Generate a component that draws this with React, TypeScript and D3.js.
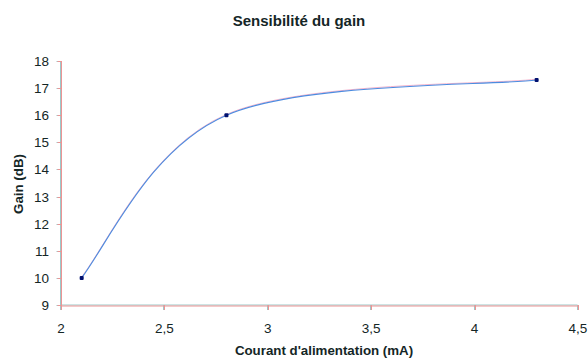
import React, { useEffect, useRef } from "react";
import * as d3 from "d3";

const current: number[] = [2.1, 2.8, 4.3];
const gain: number[] = [10, 16, 17.3];
const xTicks: number[] = [2, 2.5, 3, 3.5, 4, 4.5];
const yTicks: number[] = [9, 10, 11, 12, 13, 14, 15, 16, 17, 18];

// Excel-like smoothed line: Catmull-Rom interior tangents, softer end handling
function smoothPath(p: [number, number][]): string {
  const path = d3.path();
  const n = p.length;
  const tan = p.map((pt, i) => {
    if (i === 0 || i === n - 1) return [0, 0];
    return [(p[i + 1][0] - p[i - 1][0]) / 6, (p[i + 1][1] - p[i - 1][1]) / 6];
  });
  path.moveTo(p[0][0], p[0][1]);
  for (let i = 0; i < n - 1; i++) {
    const a = p[i];
    const b = p[i + 1];
    let c1: number[];
    let c2: number[];
    if (i === 0) {
      c2 = [b[0] - tan[i + 1][0], b[1] - tan[i + 1][1]];
      c1 = [
        a[0] + (b[0] - a[0] + c2[0] - a[0]) / 7,
        a[1] + (b[1] - a[1] + c2[1] - a[1]) / 7,
      ];
    } else {
      c1 = [a[0] + tan[i][0], a[1] + tan[i][1]];
    }
    if (i === n - 2) {
      c2 = [b[0] + (a[0] - b[0]) / 6, b[1] + (a[1] - b[1]) / 6];
    } else {
      c2 = [b[0] - tan[i + 1][0], b[1] - tan[i + 1][1]];
    }
    path.bezierCurveTo(c1[0], c1[1], c2[0], c2[1], b[0], b[1]);
  }
  return path.toString();
}

const App = () => {
  const svgRef = useRef<SVGSVGElement | null>(null);

  useEffect(() => {
    if (!svgRef.current) return;
    const svg = d3.select(svgRef.current);
    svg.selectAll("*").remove();

    const font = "'Liberation Sans', Arial, sans-serif";
    const textColor = "#142626";
    const left = 61;
    const right = 578;
    const top = 61;
    const bottom = 305;

    const x = d3.scaleLinear().domain([2, 4.5]).range([left, right]);
    const y = d3.scaleLinear().domain([9, 18]).range([bottom, top]);

    // title
    svg
      .append("text")
      .attr("x", 299)
      .attr("y", 26)
      .attr("text-anchor", "middle")
      .style("font-family", font)
      .style("font-size", "15px")
      .style("font-weight", "bold")
      .style("fill", textColor)
      .text("Sensibilité du gain");

    // axes, with a slight teal/pink fringe like the original
    const axisG = svg.append("g");
    const drawAxes = (dx: number, color: string) => {
      axisG
        .append("line")
        .attr("x1", left + dx)
        .attr("x2", left + dx)
        .attr("y1", top)
        .attr("y2", bottom)
        .attr("stroke", color);
      axisG
        .append("line")
        .attr("x1", left)
        .attr("x2", right + dx)
        .attr("y1", bottom + 0.5 + dx)
        .attr("y2", bottom + 0.5 + dx)
        .attr("stroke", color);
      axisG
        .selectAll(null)
        .data(yTicks)
        .enter()
        .append("line")
        .attr("x1", left - 4 + dx)
        .attr("x2", left + dx)
        .attr("y1", (d) => Math.round(y(d)) + 0.5)
        .attr("y2", (d) => Math.round(y(d)) + 0.5)
        .attr("stroke", color);
      axisG
        .selectAll(null)
        .data(xTicks)
        .enter()
        .append("line")
        .attr("x1", (d) => Math.round(x(d)) + dx)
        .attr("x2", (d) => Math.round(x(d)) + dx)
        .attr("y1", bottom)
        .attr("y2", bottom + 5)
        .attr("stroke", color);
    };
    drawAxes(-0.5, "#9cc8c8");
    drawAxes(0.5, "#ec9494");

    svg
      .append("g")
      .selectAll("text")
      .data(yTicks)
      .enter()
      .append("text")
      .attr("x", 49)
      .attr("y", (d) => y(d) + 5)
      .attr("text-anchor", "end")
      .style("font-family", font)
      .style("font-size", "13.5px")
      .style("fill", textColor)
      .text((d) => d3.format("d")(d));

    svg
      .append("g")
      .selectAll("text")
      .data(xTicks)
      .enter()
      .append("text")
      .attr("x", (d) => x(d))
      .attr("y", 333)
      .attr("text-anchor", "middle")
      .style("font-family", font)
      .style("font-size", "13.5px")
      .style("fill", textColor)
      .text((d) => String(d).replace(".", ","));

    svg
      .append("text")
      .attr("x", 324)
      .attr("y", 355)
      .attr("text-anchor", "middle")
      .style("font-family", font)
      .style("font-size", "13.3px")
      .style("font-weight", "bold")
      .style("fill", textColor)
      .text("Courant d'alimentation (mA)");

    svg
      .append("text")
      .attr("transform", `translate(23, 184) rotate(-90)`)
      .attr("text-anchor", "middle")
      .style("font-family", font)
      .style("font-size", "13.3px")
      .style("font-weight", "bold")
      .style("fill", textColor)
      .text("Gain (dB)");

    const pts: [number, number][] = current.map((c, i) => [x(c), y(gain[i])]);
    const d = smoothPath(pts);

    svg
      .append("path")
      .attr("d", d)
      .attr("fill", "none")
      .attr("stroke", "#f4b4cc")
      .attr("stroke-width", 1)
      .attr("transform", "translate(0,-0.8)");
    svg
      .append("path")
      .attr("d", d)
      .attr("fill", "none")
      .attr("stroke", "#4c8ce0")
      .attr("stroke-width", 1.1);

    svg
      .append("g")
      .selectAll("rect")
      .data(pts)
      .enter()
      .append("rect")
      .attr("x", (p) => p[0] - 2)
      .attr("y", (p) => p[1] - 2)
      .attr("width", 4)
      .attr("height", 4)
      .attr("rx", 1)
      .attr("fill", "#00106e");
  }, []);

  return (
    <svg
      ref={svgRef}
      width={588}
      height={361}
      style={{ position: "absolute", left: 0, top: 0, background: "#fff" }}
    />
  );
};

export default App;
